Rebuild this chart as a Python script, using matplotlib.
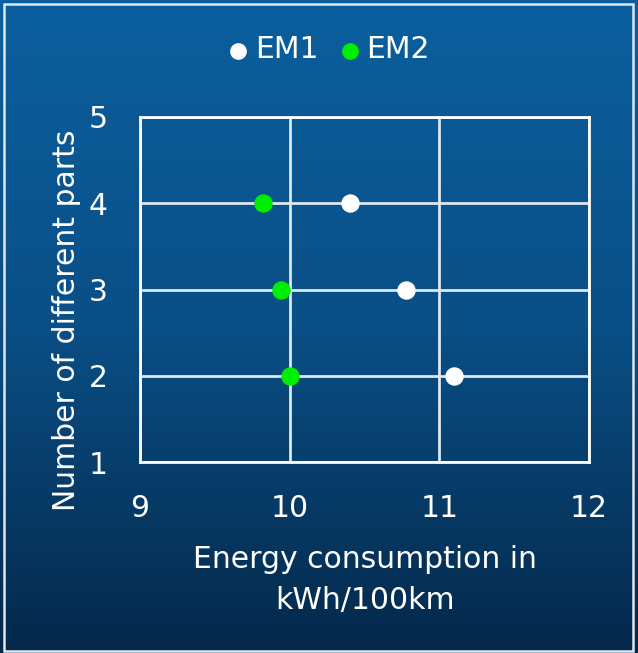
import numpy as np
import matplotlib
matplotlib.use('Agg')
import matplotlib.pyplot as plt
from matplotlib.patches import Rectangle
from matplotlib.colors import LinearSegmentedColormap

plt.rcParams['font.family'] = ['DejaVu Sans']

# energy consumption (kWh/100km) vs number of different parts
parts = [4, 3, 2]
em1_energy = [10.4, 10.78, 11.1]
em2_energy = [9.82, 9.94, 10.0]

x_ticks = [9, 10, 11, 12]
y_ticks = [1, 2, 3, 4, 5]

FS = 21.5

fig = plt.figure(figsize=(6.38, 6.53), dpi=100)

# background gradient, lighter blue at the top
bg = fig.add_axes([0, 0, 1, 1], zorder=-10)
cmap = LinearSegmentedColormap.from_list('bg', ['#0b5f9e', '#0a4f86', '#04284a'])
grad = np.linspace(0, 1, 256).reshape(-1, 1)
bg.imshow(grad, aspect='auto', cmap=cmap, extent=[0, 1, 0, 1])
bg.set_axis_off()

# thin frame around the slide area
fig.patches.append(Rectangle((4 / 638, 2 / 653), 629 / 638, 647 / 653,
                             transform=fig.transFigure, fill=False,
                             edgecolor='#dfe8f0', linewidth=1.8))

ax = fig.add_axes([140 / 638, 1 - 462 / 653, 449 / 638, 345 / 653])
ax.set_facecolor('none')

ax.scatter(em1_energy, parts, s=150, color='white', zorder=3, label='EM1')
ax.scatter(em2_energy, parts, s=150, color='#00ee00', zorder=3, label='EM2')

ax.set_xlim(9, 12)
ax.set_ylim(1, 5)
ax.set_xticks(x_ticks)
ax.set_yticks(y_ticks)
ax.grid(True, color='#dce8f2', linewidth=2)
ax.set_axisbelow(True)
for s in ax.spines.values():
    s.set_color('white')
    s.set_linewidth(2)
ax.tick_params(length=0, colors='white', labelsize=FS)
ax.tick_params(axis='x', pad=23)
ax.tick_params(axis='y', pad=23)

ax.set_xlabel('Energy consumption in\nkWh/100km', color='white', fontsize=FS,
              labelpad=16, linespacing=1.5)
ax.set_ylabel('Number of different parts', color='white', fontsize=FS, labelpad=6)
ax.yaxis.label.set_y(0.41)

leg = fig.legend(loc='center', bbox_to_anchor=(0.5, 1 - 50 / 653), ncol=2,
                 frameon=False, fontsize=FS, handletextpad=-0.45,
                 columnspacing=0.05, markerscale=0.9)
for t in leg.get_texts():
    t.set_color('white')

fig.savefig('out.png', dpi=100)
